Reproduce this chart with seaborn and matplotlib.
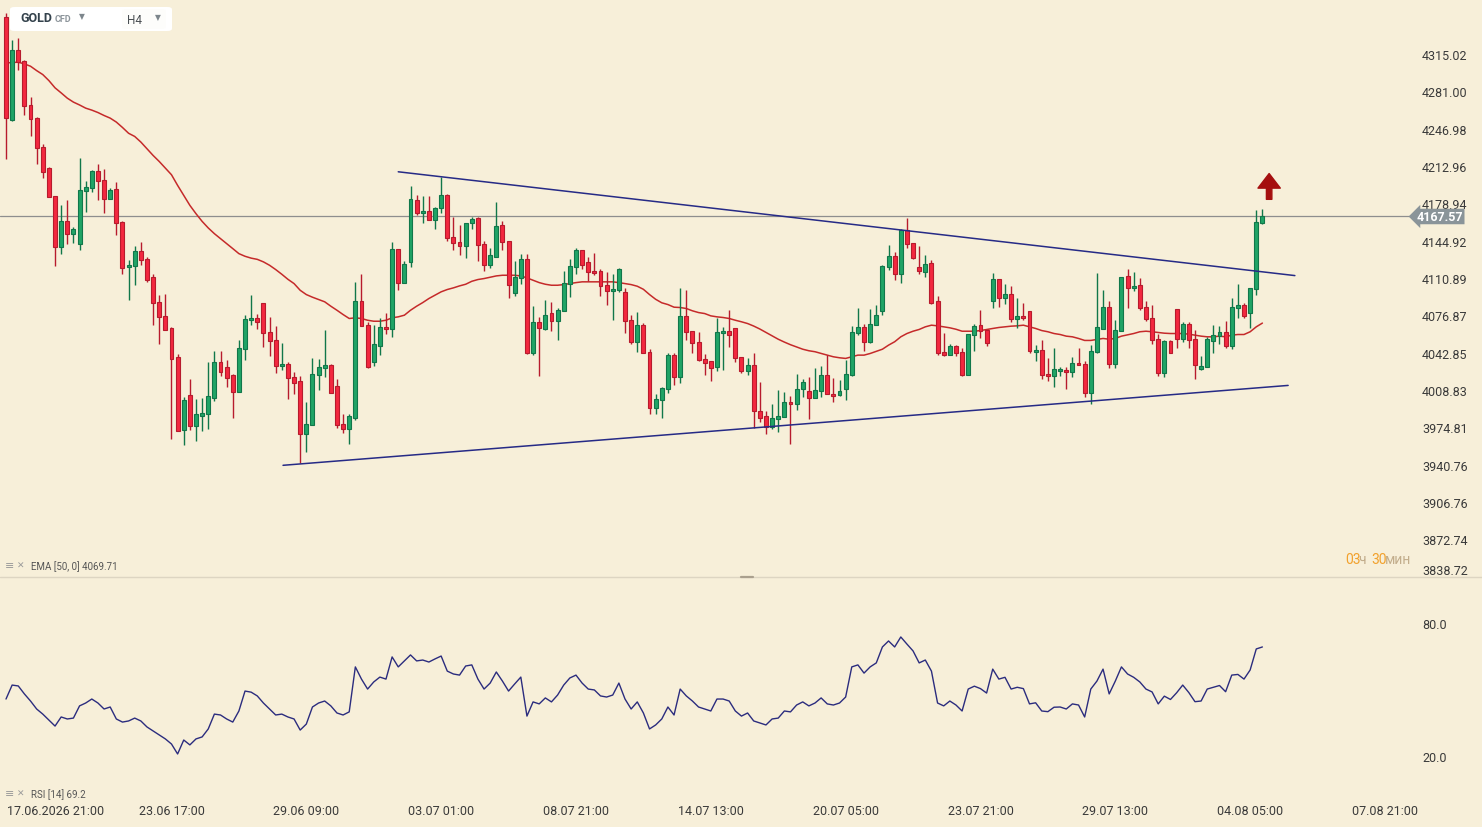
import numpy as np
import pandas as pd
import seaborn as sns
import matplotlib.pyplot as plt
from matplotlib.lines import Line2D
from matplotlib.patches import FancyBboxPatch
from matplotlib.transforms import ScaledTranslation

# GOLD CFD, H4 candles (206 bars)
opens = [
    4348.7, 4255.2, 4318.7, 4308.7, 4268.3, 4256.8, 4230.4, 4211.0, 4185.5, 4138.8,
    4163.1, 4151.0, 4141.5, 4190.1, 4192.8, 4208.3, 4200.1, 4182.8, 4191.9, 4162.1,
    4120.9, 4121.5, 4135.5, 4128.5, 4112.1, 4089.1, 4076.3, 4064.8, 4038.4, 3972.6,
    4003.8, 3976.2, 3985.3, 3987.2, 4001.7, 4034.5, 4029.9, 4022.0, 4007.2, 4046.3,
    4072.3, 4074.5, 4088.2, 4061.8, 4054.5, 4030.8, 4032.7, 4020.8, 4017.2, 3968.6,
    3977.1, 4022.6, 4029.0, 4031.1, 4012.0, 3978.1, 3973.5, 3983.5, 4090.0, 4068.4,
    4034.5, 4049.0, 4066.3, 4064.1, 4137.3, 4106.4, 4125.5, 4181.9, 4170.1, 4171.9,
    4163.7, 4174.6, 4186.4, 4148.2, 4143.7, 4140.0, 4161.0, 4165.5, 4141.9, 4122.4,
    4130.0, 4159.1, 4144.6, 4097.3, 4111.2, 4128.2, 4042.3, 4070.9, 4064.1, 4079.1,
    4071.8, 4080.9, 4105.5, 4120.9, 4136.4, 4125.5, 4117.3, 4117.3, 4104.5, 4099.1,
    4100.0, 4098.2, 4072.7, 4052.7, 4068.1, 4043.6, 3992.6, 3999.9, 4009.9, 4040.2,
    4020.8, 4076.3, 4062.7, 4052.7, 4037.2, 4035.4, 4029.9, 4060.9, 4062.7, 4065.4,
    4039.0, 4026.3, 4031.7, 3989.9, 3985.3, 3975.3, 3982.6, 3984.4, 3998.1, 3996.3,
    4009.9, 4008.1, 4001.7, 4008.1, 4022.0, 4005.4, 4004.4, 4009.9, 4022.6, 4060.9,
    4066.3, 4052.7, 4068.1, 4080.9, 4120.9, 4130.9, 4114.5, 4154.6, 4142.8, 4120.9,
    4116.4, 4124.6, 4090.0, 4043.6, 4040.8, 4049.0, 4043.6, 4022.3, 4059.0, 4068.1,
    4063.6, 4090.0, 4110.0, 4092.7, 4096.4, 4073.6, 4076.3, 4080.9, 4043.6, 4045.4,
    4023.2, 4021.4, 4025.9, 4027.2, 4025.0, 4033.6, 4032.7, 4006.3, 4043.6, 4064.5,
    4084.5, 4032.7, 4062.7, 4112.7, 4101.8, 4104.5, 4084.5, 4074.5, 4055.4, 4024.5,
    4053.6, 4082.7, 4055.4, 4069.1, 4055.4, 4028.1, 4029.9, 4053.6, 4058.1, 4061.8,
    4049.0, 4083.6, 4086.3, 4079.1, 4100.9, 4161.0]
highs = [
    4352.0, 4327.8, 4329.6, 4309.8, 4275.9, 4257.7, 4232.8, 4212.2, 4185.8, 4177.3,
    4182.2, 4157.6, 4220.4, 4199.5, 4209.2, 4214.9, 4210.4, 4192.8, 4198.5, 4163.1,
    4126.9, 4140.3, 4143.9, 4130.3, 4114.8, 4095.7, 4096.6, 4066.3, 4041.1, 4002.3,
    4018.4, 4000.2, 4001.1, 4033.8, 4044.1, 4044.1, 4035.9, 4023.2, 4053.9, 4077.5,
    4095.7, 4078.4, 4088.2, 4074.8, 4067.5, 4052.0, 4034.5, 4024.7, 4021.7, 3997.4,
    4037.5, 4036.6, 4063.0, 4032.7, 4018.4, 3986.5, 3986.5, 4107.5, 4114.8, 4070.5,
    4068.4, 4073.9, 4079.3, 4143.9, 4137.3, 4126.7, 4194.9, 4186.7, 4185.8, 4185.8,
    4175.8, 4202.5, 4187.6, 4166.1, 4159.4, 4161.0, 4166.7, 4166.7, 4144.6, 4138.5,
    4180.3, 4163.1, 4144.6, 4126.7, 4133.0, 4133.0, 4085.7, 4075.4, 4091.2, 4089.3,
    4083.9, 4117.6, 4128.5, 4138.2, 4136.4, 4130.3, 4133.9, 4119.1, 4116.6, 4114.8,
    4120.3, 4102.1, 4076.9, 4080.2, 4070.2, 4046.3, 4005.4, 4011.7, 4042.9, 4042.0,
    4102.1, 4100.3, 4062.7, 4062.0, 4041.8, 4035.4, 4073.9, 4065.7, 4081.2, 4065.4,
    4039.0, 4037.5, 4042.7, 4016.3, 3989.9, 3995.6, 4008.4, 4006.5, 4002.9, 4022.9,
    4018.4, 4020.2, 4028.4, 4030.2, 4040.5, 4019.3, 4017.5, 4035.7, 4067.5, 4083.9,
    4069.3, 4083.0, 4086.6, 4122.7, 4141.2, 4134.6, 4155.8, 4165.8, 4142.8, 4140.3,
    4132.1, 4127.3, 4094.8, 4061.1, 4051.1, 4049.9, 4047.2, 4060.0, 4069.3, 4081.2,
    4063.6, 4115.5, 4110.0, 4105.5, 4103.6, 4092.7, 4088.4, 4080.9, 4049.9, 4054.5,
    4037.5, 4046.6, 4029.9, 4029.9, 4039.0, 4047.2, 4035.4, 4049.9, 4115.5, 4100.3,
    4090.0, 4072.7, 4111.8, 4119.1, 4116.4, 4110.9, 4090.0, 4086.3, 4060.0, 4054.5,
    4054.5, 4082.7, 4070.9, 4070.9, 4063.6, 4039.9, 4057.2, 4068.4, 4067.2, 4071.8,
    4092.7, 4105.5, 4088.2, 4101.8, 4172.4, 4174.0]
lows = [
    4218.8, 4254.1, 4300.5, 4259.5, 4239.8, 4214.3, 4201.9, 4184.6, 4121.5, 4132.4,
    4141.5, 4142.4, 4136.0, 4171.0, 4188.8, 4182.2, 4169.7, 4182.8, 4149.7, 4114.2,
    4090.5, 4104.8, 4122.4, 4107.3, 4067.8, 4050.5, 4063.6, 3964.0, 3971.3, 3958.6,
    3972.6, 3962.6, 3971.3, 3973.1, 3998.6, 4021.4, 4011.4, 3983.1, 4007.2, 4035.9,
    4067.8, 4064.1, 4047.8, 4039.9, 4024.5, 4026.8, 4000.4, 4005.0, 3941.9, 3952.2,
    3977.1, 4008.6, 4020.5, 4006.3, 3974.0, 3969.5, 3959.5, 3981.3, 4067.2, 4028.6,
    4030.8, 4040.5, 4060.2, 4056.9, 4099.6, 4106.4, 4120.6, 4168.5, 4160.6, 4163.7,
    4155.1, 4169.7, 4144.2, 4136.0, 4131.5, 4129.1, 4155.1, 4126.0, 4116.9, 4119.6,
    4130.0, 4136.0, 4092.3, 4094.5, 4105.7, 4041.4, 4040.5, 4021.1, 4063.0, 4062.3,
    4054.1, 4080.9, 4093.3, 4114.2, 4118.7, 4108.5, 4113.3, 4094.5, 4086.0, 4072.3,
    4098.2, 4060.5, 4050.9, 4043.2, 4042.7, 3986.8, 3986.8, 3983.5, 4006.3, 4013.2,
    4015.4, 4054.1, 4042.7, 4035.4, 4022.3, 4016.8, 4025.9, 4026.8, 4047.8, 4034.5,
    4024.5, 4022.3, 3973.8, 3979.9, 3968.6, 3973.1, 3970.4, 3984.4, 3959.5, 3990.4,
    4002.3, 3982.2, 4001.7, 4002.3, 4005.4, 3998.1, 4003.2, 3999.5, 4021.7, 4058.7,
    4044.1, 4051.8, 4068.1, 4076.9, 4118.2, 4108.7, 4106.0, 4137.8, 4127.8, 4114.2,
    4111.8, 4086.9, 4040.5, 4039.9, 4040.8, 4039.6, 4021.4, 4022.3, 4044.1, 4056.3,
    4048.7, 4083.2, 4084.2, 4087.3, 4070.9, 4065.4, 4072.7, 4042.7, 4035.0, 4018.6,
    4016.8, 4011.4, 4021.4, 4009.5, 4020.5, 4031.7, 4002.3, 3995.9, 4042.7, 4064.5,
    4029.0, 4029.0, 4062.7, 4083.6, 4098.7, 4081.4, 4071.8, 4050.9, 4021.4, 4020.5,
    4042.7, 4046.6, 4052.7, 4046.6, 4018.6, 4027.2, 4029.9, 4042.3, 4050.9, 4046.6,
    4045.9, 4074.5, 4074.5, 4065.4, 4095.4, 4160.1]
closes = [
    4256.5, 4318.7, 4307.5, 4268.0, 4255.6, 4229.2, 4207.4, 4184.6, 4138.8, 4163.1,
    4151.0, 4155.8, 4191.0, 4194.0, 4208.3, 4199.2, 4182.8, 4191.0, 4161.0, 4120.0,
    4123.0, 4135.5, 4126.9, 4108.7, 4087.8, 4075.1, 4063.6, 4036.8, 3971.3, 3999.3,
    3975.6, 3986.5, 3988.1, 4002.9, 4034.5, 4025.4, 4019.9, 4007.2, 4047.2, 4073.6,
    4074.5, 4070.5, 4060.9, 4053.6, 4030.8, 4032.7, 4019.9, 4015.4, 3968.6, 3978.1,
    4023.6, 4029.9, 4031.1, 4006.3, 3977.1, 3973.5, 3984.7, 4090.0, 4067.2, 4029.6,
    4050.9, 4066.3, 4064.1, 4137.3, 4106.4, 4123.7, 4182.8, 4169.7, 4172.2, 4163.7,
    4174.6, 4186.4, 4147.3, 4142.8, 4140.0, 4161.0, 4164.6, 4140.9, 4122.4, 4131.5,
    4158.2, 4143.7, 4104.5, 4111.8, 4128.2, 4042.3, 4070.9, 4065.4, 4077.2, 4071.8,
    4081.8, 4106.4, 4121.8, 4136.4, 4122.7, 4116.4, 4115.5, 4103.6, 4099.1, 4100.9,
    4119.1, 4071.8, 4052.7, 4068.1, 4042.7, 3992.6, 4000.8, 4010.8, 4040.2, 4020.8,
    4076.3, 4061.8, 4051.8, 4035.9, 4033.6, 4029.0, 4061.8, 4062.7, 4059.0, 4038.1,
    4026.3, 4031.7, 3989.9, 3983.5, 3975.3, 3983.5, 3985.3, 3998.1, 3995.6, 4009.9,
    4016.3, 4001.7, 4009.0, 4022.0, 4005.4, 4003.5, 4008.1, 4023.6, 4061.8, 4066.3,
    4052.7, 4069.1, 4077.2, 4121.8, 4130.9, 4114.5, 4154.6, 4141.9, 4129.1, 4117.3,
    4123.7, 4087.8, 4042.7, 4040.8, 4049.0, 4042.7, 4022.3, 4060.0, 4067.2, 4062.7,
    4051.8, 4110.0, 4092.7, 4096.4, 4073.6, 4076.3, 4074.5, 4044.5, 4045.4, 4022.3,
    4021.4, 4028.1, 4028.1, 4025.0, 4033.6, 4031.7, 4006.3, 4044.5, 4066.3, 4084.5,
    4032.7, 4063.6, 4111.8, 4101.8, 4103.6, 4083.6, 4073.6, 4054.5, 4024.5, 4053.6,
    4042.7, 4055.4, 4069.1, 4054.5, 4031.7, 4030.8, 4055.4, 4059.0, 4061.8, 4049.0,
    4084.5, 4086.3, 4076.3, 4101.8, 4161.9, 4167.57]

# EMA [50, 0] as drawn on the chart
ema50 = [
    4306.8, 4307.1, 4307.5, 4305.9, 4303.8, 4299.8, 4296.2, 4290.7, 4284.1, 4279.5,
    4274.7, 4271.1, 4268.5, 4265.6, 4263.8, 4261.6, 4258.9, 4256.5, 4252.9, 4248.0,
    4242.7, 4239.8, 4234.7, 4228.6, 4222.5, 4217.0, 4211.0, 4204.9, 4195.2, 4186.1,
    4177.0, 4169.4, 4162.4, 4156.4, 4151.2, 4146.7, 4142.1, 4137.6, 4133.0, 4130.6,
    4128.9, 4127.8, 4125.5, 4122.4, 4118.5, 4114.2, 4109.6, 4105.7, 4099.6, 4095.7,
    4093.3, 4091.2, 4089.1, 4085.1, 4081.4, 4077.5, 4073.9, 4074.5, 4073.9, 4072.3,
    4071.4, 4071.4, 4072.3, 4074.5, 4075.4, 4076.9, 4081.4, 4085.1, 4088.4, 4092.1,
    4095.1, 4098.2, 4100.3, 4101.8, 4103.6, 4105.1, 4107.8, 4109.4, 4110.3, 4111.5,
    4112.7, 4113.3, 4113.3, 4113.3, 4112.7, 4110.9, 4108.7, 4106.6, 4105.1, 4104.2,
    4104.2, 4104.8, 4105.7, 4106.6, 4107.3, 4107.3, 4107.3, 4107.3, 4107.3, 4107.3,
    4106.6, 4105.7, 4104.8, 4103.3, 4100.5, 4095.7, 4091.4, 4088.2, 4086.6, 4084.2,
    4083.9, 4083.0, 4080.9, 4079.3, 4078.4, 4076.3, 4075.4, 4074.8, 4073.9, 4072.3,
    4070.9, 4069.3, 4067.0, 4064.3, 4061.2, 4058.0, 4055.0, 4052.4, 4050.0, 4048.0,
    4045.9, 4044.5, 4043.6, 4042.0, 4040.5, 4039.0, 4038.1, 4037.5, 4039.0, 4040.5,
    4040.5, 4042.0, 4044.0, 4045.9, 4049.6, 4052.7, 4057.2, 4060.2, 4062.3, 4063.9,
    4066.3, 4067.8, 4067.2, 4066.3, 4065.4, 4064.1, 4062.3, 4062.3, 4062.3, 4062.9,
    4063.9, 4064.8, 4065.7, 4066.3, 4066.9, 4067.2, 4067.8, 4066.3, 4064.8, 4062.9,
    4061.8, 4060.2, 4059.3, 4057.8, 4057.2, 4055.7, 4053.9, 4053.9, 4054.8, 4055.7,
    4055.0, 4055.7, 4057.8, 4059.0, 4060.2, 4061.8, 4062.3, 4061.8, 4061.1, 4060.5,
    4060.2, 4060.2, 4060.2, 4059.6, 4058.7, 4057.8, 4057.2, 4057.2, 4057.8, 4057.2,
    4058.7, 4059.3, 4059.3, 4061.8, 4066.3, 4069.71]

# RSI [14] as drawn in the lower pane
rsi14 = [
    45.7, 52.0, 51.6, 48.0, 44.8, 41.2, 38.9, 36.2, 33.5, 37.6,
    36.7, 37.1, 42.6, 43.9, 45.7, 43.9, 41.2, 42.1, 36.7, 35.3,
    35.8, 37.1, 35.8, 33.1, 31.3, 29.5, 27.7, 25.4, 20.9, 27.2,
    25.0, 27.7, 28.6, 32.2, 38.9, 38.5, 36.7, 35.3, 40.3, 49.3,
    48.8, 47.1, 43.9, 41.2, 38.5, 38.9, 37.6, 36.7, 31.7, 34.4,
    42.1, 43.9, 44.8, 42.6, 39.4, 38.5, 39.9, 60.2, 54.7, 50.2,
    53.4, 55.6, 54.7, 64.7, 60.2, 62.9, 65.6, 62.9, 63.3, 62.4,
    63.8, 65.1, 58.3, 57.0, 56.5, 60.6, 61.1, 54.7, 50.2, 52.9,
    57.9, 53.8, 49.3, 52.5, 55.6, 38.0, 44.4, 43.5, 46.2, 44.4,
    47.5, 52.0, 55.2, 56.5, 52.9, 50.2, 49.8, 47.1, 46.6, 47.5,
    52.9, 45.7, 41.2, 44.4, 39.4, 32.2, 34.0, 36.7, 42.1, 38.5,
    50.2, 47.1, 44.8, 42.1, 41.2, 40.3, 45.7, 45.7, 44.8, 40.3,
    38.0, 39.4, 35.8, 34.9, 34.0, 36.7, 37.1, 40.3, 39.9, 43.0,
    44.4, 42.6, 43.9, 46.2, 43.5, 43.0, 43.9, 46.6, 60.2, 61.1,
    57.4, 60.2, 62.0, 69.2, 71.9, 69.2, 73.7, 70.5, 67.4, 62.0,
    63.3, 58.3, 43.9, 42.6, 44.8, 43.0, 40.3, 50.2, 51.5, 50.4,
    48.4, 59.2, 54.7, 55.5, 50.2, 51.0, 50.4, 43.5, 44.0, 40.3,
    40.0, 42.0, 42.1, 41.2, 43.5, 43.0, 37.6, 50.2, 53.8, 59.2,
    48.0, 53.8, 60.2, 57.0, 55.5, 53.4, 50.2, 48.9, 43.5, 47.0,
    45.5, 48.5, 52.0, 48.6, 44.5, 44.8, 50.2, 51.0, 51.8, 49.0,
    56.5, 56.8, 54.7, 58.8, 68.3, 69.2]

# triangle drawn by hand: (bar index, price) end points
upper_line_x = [64.0, 210.3]
upper_line_y = [4207.6, 4113.0]
lower_line_x = [45.2, 209.2]
lower_line_y = [3940.1, 4012.9]
arrow_x = 206.1
arrow_y = [4182.5, 4206.0]

price_ticks = [4315.02, 4281.00, 4246.98, 4212.96, 4178.94, 4144.92, 4110.89, 4076.87,
               4042.85, 4008.83, 3974.81, 3940.76, 3906.76, 3872.74, 3838.72]
time_ticks = [5, 27, 49, 71, 93, 115, 137, 159, 181, 203, 225]
time_labels = ['17.06.2026 21:00', '23.06 17:00', '29.06 09:00', '03.07 01:00',
               '08.07 21:00', '14.07 13:00', '20.07 05:00', '23.07 21:00',
               '29.07 13:00', '04.08 05:00', '07.08 21:00']

bg = '#f7efd9'
up_face, up_edge = '#20a466', '#11774a'
dn_face, dn_edge = '#f3283f', '#b71b2d'

sns.set_style('white', rc={'axes.facecolor': bg, 'figure.facecolor': bg})
plt.rcParams['font.family'] = ['Roboto', 'DejaVu Sans']

W, H = 1482, 828
fig = plt.figure(figsize=(W / 100, H / 100), dpi=100)
ax = fig.add_axes([0, 1 - 578 / H, 1415 / W, 578 / H])
rax = fig.add_axes([0, 1 - 801.3 / H, 1415 / W, (801.3 - 579.7) / H], sharex=ax)

df = pd.DataFrame({'open': opens, 'high': highs, 'low': lows, 'close': closes,
                   'ema': ema50, 'rsi': rsi14})
df['bar'] = np.arange(len(df))
up = df['close'] >= df['open']
edge = np.where(up, up_edge, dn_edge)
face = np.where(up, up_face, dn_face)

# candles
ax.vlines(df['bar'], df['low'], df['high'], colors=edge, linewidth=1.0, zorder=2)
body_lo = df[['open', 'close']].min(axis=1)
body_h = (df['close'] - df['open']).abs().clip(lower=1.0)
ax.bar(df['bar'], body_h, bottom=body_lo, width=0.64, color=face,
       edgecolor=edge, linewidth=0.8, zorder=3)

sns.lineplot(data=df, x='bar', y='ema', ax=ax, color='#c52a2a', linewidth=1.1,
             zorder=1.5, legend=False)
ax.plot(upper_line_x, upper_line_y, color='#262a86', linewidth=1.1, zorder=4)
ax.plot(lower_line_x, lower_line_y, color='#262a86', linewidth=1.1, zorder=4)
ax.axhline(closes[-1], color='#8e8e8e', linewidth=0.9, zorder=1)
ax.annotate('', xy=(arrow_x, arrow_y[1]), xytext=(arrow_x, arrow_y[0]),
            arrowprops=dict(arrowstyle='simple,head_length=0.75,head_width=1.15,tail_width=0.28',
                            color='#a50f0f', mutation_scale=14, shrinkA=0, shrinkB=0),
            zorder=5)

ax.set_xlim(-0.98, 229.9)
ax.set_ylim(3838.3, 4365.07)
ax.yaxis.tick_right()
ax.set_yticks(price_ticks)
ax.set_yticklabels([f'{p:.2f}' for p in price_ticks])
ax.tick_params(axis='y', length=0, pad=5, labelsize=9, colors='#3a3a3a')
ax.tick_params(axis='x', length=0, labelbottom=False)
ax.get_yticklabels()[-1].set_va('bottom')
ax.set_xlabel('')
ax.set_ylabel('')
for s in ax.spines.values():
    s.set_visible(False)

# RSI pane
sns.lineplot(data=df, x='bar', y='rsi', ax=rax, color='#2b2c7e', linewidth=1.0,
             legend=False)
rax.set_ylim(0, 100)
rax.yaxis.tick_right()
rax.set_yticks([20, 80])
rax.set_yticklabels(['20.0', '80.0'])
rax.tick_params(axis='y', length=0, pad=5, labelsize=9, colors='#3a3a3a')
rax.set_xticks(time_ticks)
rax.set_xticklabels(time_labels)
rax.tick_params(axis='x', length=0, pad=3, labelsize=9, colors='#3a3a3a')
first = rax.get_xticklabels()[0]
first.set_ha('left')
first.set_transform(first.get_transform() + ScaledTranslation(-0.296, 0, fig.dpi_scale_trans))
rax.set_xlabel('')
rax.set_ylabel('')
for s in rax.spines.values():
    s.set_visible(False)


def ftext(x, y, s, **kw):
    return fig.text(x / W, 1 - y / H, s, **kw)


# pane separator with drag handle
fig.add_artist(Line2D([0, 1], [1 - 578 / H] * 2, color='#ddd5c2', linewidth=1))
fig.add_artist(Line2D([741 / W, 753 / W], [1 - 578 / H] * 2, color='#aaa08e', linewidth=1.6))

# last price tag
ftext(1440, 217.5, f'{closes[-1]:.2f}', ha='center', va='center', color='white',
      fontsize=9, fontweight='bold',
      bbox=dict(boxstyle='larrow,pad=0.1', fc='#8a9499', ec='none'))

# symbol box
fig.add_artist(FancyBboxPatch((10 / W, 1 - 32 / H), 162 / W, 24 / H,
                              boxstyle='round,pad=0,rounding_size=0.003',
                              transform=fig.transFigure, fc='white', ec='none'))
fig.add_artist(FancyBboxPatch((122 / W, 1 - 30 / H), 44 / W, 20 / H,
                              boxstyle='round,pad=0,rounding_size=0.003',
                              transform=fig.transFigure, fc='#fdfdfb', ec='none'))
ftext(20, 19, 'GOLD', ha='left', va='center', fontsize=9, fontweight='bold', color='#34424c')
ftext(55, 19.5, 'CFD', ha='left', va='center', fontsize=6.5, fontweight='bold', color='#8d959b')
ftext(82, 16.5, '▼', ha='center', va='center', fontsize=5.5, color='#7d868c')
ftext(127, 20, 'H4', ha='left', va='center', fontsize=8.5, color='#4a4f53')
ftext(158, 18, '▼', ha='center', va='center', fontsize=5.5, color='#7d868c')

# indicator captions
ftext(5, 566, '≡', ha='left', va='center', fontsize=8, color='#9a9a9a')
ftext(17, 566, '✕', ha='left', va='center', fontsize=6.5, color='#9a9a9a')
ftext(31, 567, f'EMA [50, 0] {ema50[-1]:.2f}', ha='left', va='center', fontsize=7, color='#555555')
ftext(5, 794, '≡', ha='left', va='center', fontsize=8, color='#9a9a9a')
ftext(17, 794, '✕', ha='left', va='center', fontsize=6.5, color='#9a9a9a')
ftext(31, 795, f'RSI [14] {rsi14[-1]:.1f}', ha='left', va='center', fontsize=7, color='#555555')

# bar countdown, all parts on one baseline
ftext(1345, 564, '03', ha='left', va='baseline', fontsize=10, color='#f2a12c')
ftext(1358, 564, 'ч', ha='left', va='baseline', fontsize=10, color='#c2ad8c')
ftext(1371, 564, '30', ha='left', va='baseline', fontsize=10, color='#f2a12c')
ftext(1385, 564, 'мин', ha='left', va='baseline', fontsize=10, color='#c2ad8c')

fig.savefig('out.png', dpi=100, facecolor=bg)
